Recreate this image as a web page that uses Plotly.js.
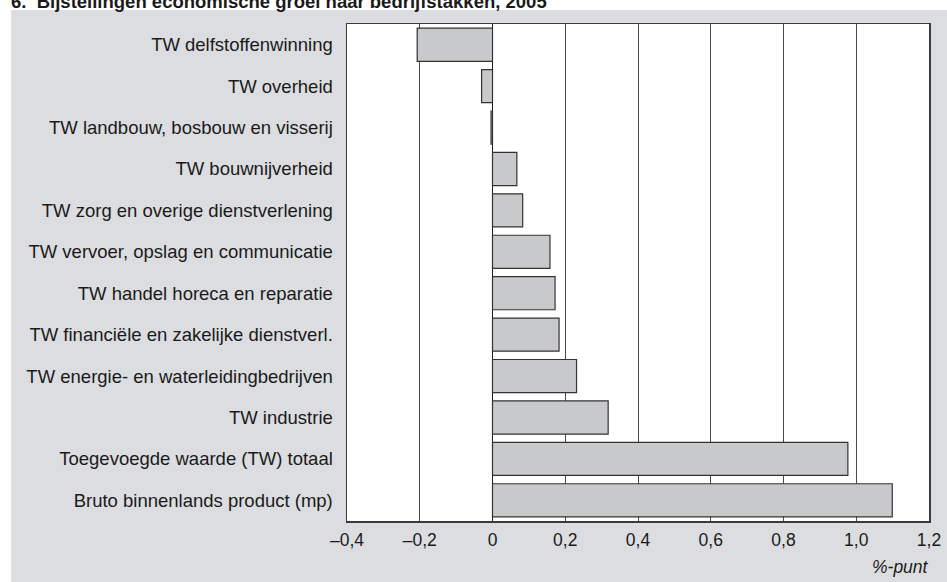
<!DOCTYPE html>
<html>
<head>
<meta charset="utf-8">
<script src="https://cdn.plot.ly/plotly-3.0.1.min.js"></script>
<style>html,body{margin:0;padding:0;background:#fff;}#chart{width:947px;height:582px;}</style>
</head>
<body>
<div id="chart"></div>
<script>
// Categories, top to bottom
const categories = [
  "TW delfstoffenwinning",
  "TW overheid",
  "TW landbouw, bosbouw en visserij",
  "TW bouwnijverheid",
  "TW zorg en overige dienstverlening",
  "TW vervoer, opslag en communicatie",
  "TW handel horeca en reparatie",
  "TW financiële en zakelijke dienstverl.",
  "TW energie- en waterleidingbedrijven",
  "TW industrie",
  "Toegevoegde waarde (TW) totaal",
  "Bruto binnenlands product (mp)"
];
// Adjustment in %-point
const values = [-0.207, -0.030, -0.004, 0.067, 0.083, 0.158, 0.172, 0.183, 0.231, 0.318, 0.977, 1.099];
const tickValues = [-0.4, -0.2, 0, 0.2, 0.4, 0.6, 0.8, 1.0, 1.2];
const tickLabels = ["–0,4", "–0,2", "0", "0,2", "0,4", "0,6", "0,8", "1,0", "1,2"];
const titleText = "6.&nbsp; Bijstellingen economische groei naar bedrijfstakken, 2005";
const unitText = "%-punt";

const trace = {
  type: "bar",
  orientation: "h",
  x: values,
  y: categories,
  marker: { color: "#c8c9cb", line: { color: "#333333", width: 1.2 } },
  hoverinfo: "x+y"
};

const fontFam = "Liberation Sans, Arial, sans-serif";

const layout = {
  width: 947,
  height: 582,
  margin: { l: 347, r: 18, t: 24, b: 61, pad: 0 },
  paper_bgcolor: "#dcdde0",
  plot_bgcolor: "#ffffff",
  showlegend: false,
  bargap: 0.2,
  font: { family: fontFam, color: "#1a1a1a" },
  xaxis: {
    range: [-0.4, 1.2],
    tickmode: "array",
    tickvals: tickValues,
    ticktext: tickLabels,
    showgrid: true,
    gridcolor: "#4a4a4a",
    gridwidth: 1,
    zeroline: true,
    zerolinecolor: "#1a1a1a",
    zerolinewidth: 1.5,
    showline: true,
    linecolor: "#3a3a3a",
    linewidth: 1.5,
    mirror: true,
    ticks: "",
    ticklabelstandoff: 2,
    tickfont: { size: 17.5, family: fontFam, color: "#1a1a1a" },
    fixedrange: true
  },
  yaxis: {
    type: "category",
    autorange: "reversed",
    showgrid: false,
    zeroline: false,
    showline: true,
    linecolor: "#3a3a3a",
    linewidth: 1.5,
    mirror: true,
    ticks: "",
    ticklabelstandoff: 9,
    tickfont: { size: 18.5, family: fontFam, color: "#1a1a1a" },
    fixedrange: true
  },
  shapes: [
    // white strip above grey panel
    { type: "rect", xref: "paper", yref: "paper", x0: -0.62, x1: 1.05, y0: 1.028, y1: 1.1,
      fillcolor: "#ffffff", line: { width: 0 }, layer: "below" },
    // white strip left of grey panel
    { type: "rect", xref: "paper", yref: "paper", x0: -0.62, x1: -0.577, y0: -0.2, y1: 1.1,
      fillcolor: "#ffffff", line: { width: 0 }, layer: "below" }
  ],
  annotations: [
    { text: "<b>" + titleText + "</b>", xref: "paper", yref: "paper",
      x: -0.580, y: 1.0207, xanchor: "left", yanchor: "bottom", showarrow: false,
      font: { size: 18.5, family: fontFam, color: "#1a1a1a" } },
    { text: "<i>" + unitText + "</i>", xref: "paper", yref: "paper",
      x: 1.003, y: -0.093, xanchor: "right", yanchor: "middle", showarrow: false,
      font: { size: 17.5, family: fontFam, color: "#1a1a1a" } }
  ]
};

Plotly.newPlot("chart", [trace], layout, { displayModeBar: false, staticPlot: true });
</script>
</body>
</html>
